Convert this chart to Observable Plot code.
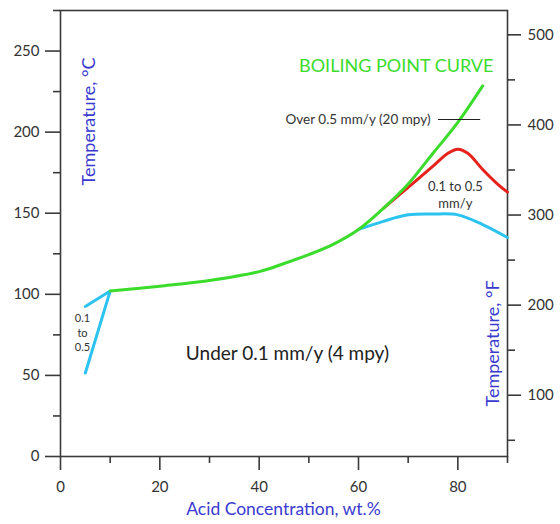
<!DOCTYPE html>
<html><head><meta charset="utf-8">
<script src="https://cdn.jsdelivr.net/npm/d3@7"></script>
<script src="https://cdn.jsdelivr.net/npm/@observablehq/plot@0.6"></script>
<style>body{margin:0;background:#fff} svg{display:block}</style>
</head><body><div id="chart"></div>
<script>
// Boiling point curve (green)
const boilingConc = [10, 20, 30, 40, 45, 50, 55, 60, 65, 70, 75, 80, 85];
const boilingTemp = [102, 105, 108.5, 114, 119, 124.5, 131, 140, 153, 168, 187, 206, 228.5];
// 0.1 to 0.5 mm/y iso-corrosion (red)
const redConc = [65, 70, 75, 78, 80, 82, 85, 88, 90];
const redTemp = [153, 166, 179, 187, 189.5, 187, 177, 168, 163];
// 0.1 mm/y iso-corrosion (blue), high concentration branch
const blueHighConc = [60, 65, 70, 75, 80, 85, 90];
const blueHighTemp = [140, 145, 149, 149.5, 149, 143, 135];
// 0.1 mm/y iso-corrosion (blue), low concentration branch
const blueLowConc = [5, 10, 5];
const blueLowTemp = [92.5, 102, 51.5];
// axis ticks
const xMajor = [0, 20, 40, 60, 80];
const xMinor = [10, 30, 50, 70, 90];
const cMajor = [0, 50, 100, 150, 200, 250];
const cMinor = [25, 75, 125, 175, 225, 275];
const fMajor = [100, 200, 300, 400, 500];
const fMinor = [50, 150, 250, 350, 450];

const toC = f => (f - 32) / 1.8;
const toF = c => c * 1.8 + 32;
const rows = (xs, ys) => xs.map((c, i) => ({c, t: ys[i]}));

const GREEN = "#3bdc2c", RED = "#e5221c", BLUE = "#2cc3f0", LABEL = "#3a3ad0", INK = "#333", AXIS = "#3a3a3a";

const chart = Plot.plot({
  width: 560, height: 524,
  marginLeft: 60, marginRight: 53, marginTop: 10, marginBottom: 68,
  x: {domain: [0, 90]},
  y: {domain: [0, 275]},
  style: {fontFamily: "Lato, sans-serif", fontSize: "15px", color: INK, background: "#fff"},
  marks: [
    Plot.axisY(cMajor, {anchor: "left", tickSize: 15, tickPadding: 6, label: null, stroke: AXIS, strokeWidth: 1.6, fontSize: 15}),
    Plot.axisY(cMinor, {anchor: "left", tickSize: 7, tickFormat: () => "", label: null, stroke: AXIS, strokeWidth: 1.6}),
    Plot.axisY(fMajor.map(toC), {anchor: "right", tickSize: 13, tickPadding: 7, tickFormat: c => Math.round(toF(c)), label: null, stroke: AXIS, strokeWidth: 1.6, fontSize: 15}),
    Plot.axisY(fMinor.map(toC), {anchor: "right", tickSize: 7, tickFormat: () => "", label: null, stroke: AXIS, strokeWidth: 1.6}),
    Plot.axisX(xMajor, {anchor: "bottom", tickSize: 14, tickPadding: 11, label: null, stroke: AXIS, strokeWidth: 1.6, fontSize: 15}),
    Plot.axisX(xMinor, {anchor: "bottom", tickSize: 7, tickFormat: () => "", label: null, stroke: AXIS, strokeWidth: 1.6}),
    Plot.frame({stroke: AXIS, strokeWidth: 1.6}),
    Plot.line(rows(blueLowConc, blueLowTemp), {x: "c", y: "t", stroke: BLUE, strokeWidth: 3}),
    Plot.line(rows(blueHighConc, blueHighTemp), {x: "c", y: "t", stroke: BLUE, strokeWidth: 3, curve: "catmull-rom"}),
    Plot.line(rows(redConc, redTemp), {x: "c", y: "t", stroke: RED, strokeWidth: 3, curve: "catmull-rom"}),
    Plot.line(rows(boilingConc, boilingTemp), {x: "c", y: "t", stroke: GREEN, strokeWidth: 3, curve: "catmull-rom"}),
    Plot.ruleY([207.8], {x1: 76.1, x2: 84.6, stroke: "#222", strokeWidth: 1.2}),
    Plot.text(["BOILING POINT CURVE"], {x: 67.6, y: 240.5, fill: GREEN, fontSize: 18}),
    Plot.text(["Over 0.5 mm/y (20 mpy)"], {x: 74.5, y: 207.8, textAnchor: "end", fill: INK, fontSize: 13.5}),
    Plot.text(["0.1 to 0.5"], {x: 79.5, y: 166.5, fill: INK, fontSize: 13}),
    Plot.text(["mm/y"], {x: 79.5, y: 155.5, fill: INK, fontSize: 13}),
    Plot.text(["Under 0.1 mm/y (4 mpy)"], {x: 45.7, y: 63.5, fill: "#222", fontSize: 19}),
    Plot.text(["0.1"], {x: 4.43, y: 85.1, fill: INK, fontSize: 11}),
    Plot.text(["to"], {x: 4.43, y: 75.8, fill: INK, fontSize: 11}),
    Plot.text(["0.5"], {x: 4.43, y: 67.3, fill: INK, fontSize: 11}),
    Plot.text(["Temperature, °C"], {x: 5.84, y: 206.6, rotate: -90, fill: LABEL, fontSize: 18}),
    Plot.text(["Temperature, °F"], {x: 87.2, y: 69.7, rotate: -90, fill: LABEL, fontSize: 18}),
    Plot.text(["Acid Concentration, wt.%"], {x: 44.9, y: -32.7, fill: LABEL, fontSize: 17.5, clip: false})
  ]
});
document.getElementById("chart").appendChild(chart);
</script>
</body></html>
